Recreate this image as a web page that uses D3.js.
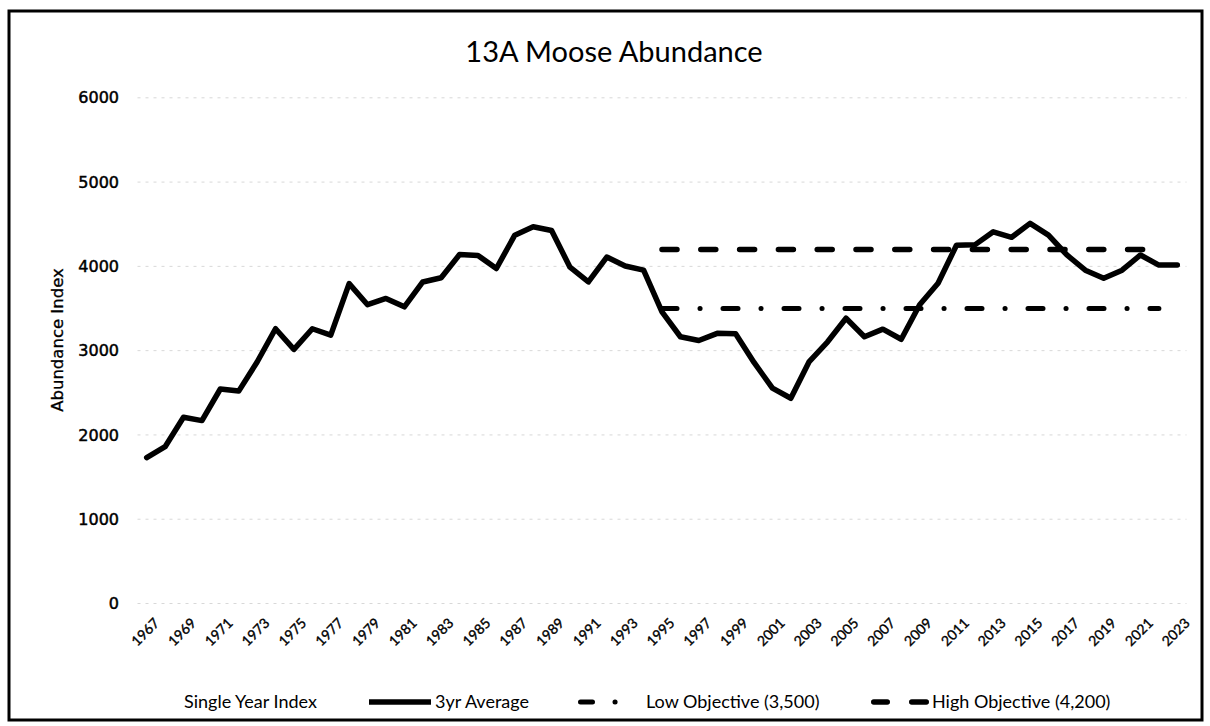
<!doctype html>
<html lang="en">
<head>
    <meta charset="UTF-8">
    <title>13A Moose Abundance</title>
    <script src="https://cdn.jsdelivr.net/npm/d3@7"></script>
    <style>
        body { margin: 0; background: #fff; }
        text { fill: #000; }
    </style>
</head>
<body>
    <script>
        // 3yr average abundance index
        var years = [1967, 1968, 1969, 1970, 1971, 1972, 1973, 1974, 1975, 1976,
                     1977, 1978, 1979, 1980, 1981, 1982, 1983, 1984, 1985, 1986,
                     1987, 1988, 1989, 1990, 1991, 1992, 1993, 1994, 1995, 1996,
                     1997, 1998, 1999, 2000, 2001, 2002, 2003, 2004, 2005, 2006,
                     2007, 2008, 2009, 2010, 2011, 2012, 2013, 2014, 2015, 2016,
                     2017, 2018, 2019, 2020, 2021, 2022, 2023];
        var avg3yr = [1730, 1860, 2210, 2170, 2545, 2520, 2865, 3260, 3015, 3260,
                      3185, 3795, 3545, 3620, 3520, 3815, 3865, 4140, 4130, 3975,
                      4370, 4470, 4425, 3990, 3815, 4110, 4005, 3955, 3460, 3165,
                      3120, 3205, 3200, 2860, 2555, 2435, 2870, 3105, 3385, 3165,
                      3255, 3135, 3545, 3800, 4250, 4255, 4410, 4345, 4510, 4370,
                      4135, 3955, 3860, 3955, 4135, 4015, 4015];
        var lowObjective = 3500,
            highObjective = 4200,
            objectiveYears = [1995, 2022];
        var yTicks = [0, 1000, 2000, 3000, 4000, 5000, 6000];
        var xTickYears = [1967, 1969, 1971, 1973, 1975, 1977, 1979, 1981, 1983, 1985,
                          1987, 1989, 1991, 1993, 1995, 1997, 1999, 2001, 2003, 2005,
                          2007, 2009, 2011, 2013, 2015, 2017, 2019, 2021, 2023];

        var width = 1210,
            height = 726;

        var svg = d3.select("body").append("svg")
                    .attr("width", width)
                    .attr("height", height);

        // outer frame
        svg.append("rect")
            .attr("x", 9).attr("y", 11)
            .attr("width", 1193).attr("height", 709)
            .attr("fill", "none")
            .attr("stroke", "#000")
            .attr("stroke-width", 3);

        var x = d3.scalePoint()
                  .domain(years)
                  .range([137.5, 1186.5])
                  .padding(0.5);

        var y = d3.scaleLinear()
                  .domain([0, 6000])
                  .range([603.5, 97.8]);

        // gridlines (faint, scanned look)
        svg.append("g")
            .selectAll("line")
            .data(yTicks)
            .enter()
            .append("line")
            .attr("x1", 137.5)
            .attr("x2", 1186.5)
            .attr("y1", function(d){ return y(d); })
            .attr("y2", function(d){ return y(d); })
            .attr("stroke", "#d8d8d8")
            .attr("stroke-width", 1)
            .attr("stroke-dasharray", "3,5");

        // y axis labels
        var yAxis = d3.axisLeft(y).tickValues(yTicks).tickSize(0).tickPadding(0).tickFormat(d3.format("d"));
        svg.append("g")
            .attr("transform", "translate(119,0)")
            .call(yAxis)
            .call(function(g){ g.select(".domain").remove(); })
            .selectAll("text")
            .attr("font-family", "DejaVu Sans")
            .attr("font-size", 16)
            .attr("fill", "#000")
            .attr("stroke", "#000")
            .attr("stroke-width", 0.5);

        svg.append("text")
            .attr("transform", "translate(57,340) rotate(-90)")
            .attr("text-anchor", "middle")
            .attr("dy", "0.35em")
            .attr("font-family", "DejaVu Sans")
            .attr("font-size", 16.5)
            .attr("stroke", "#000")
            .attr("stroke-width", 0.3)
            .text("Abundance Index");

        // x axis labels, every other year, rotated
        var xAxis = d3.axisBottom(x).tickValues(xTickYears).tickSize(0).tickPadding(0);
        svg.append("g")
            .attr("transform", "translate(0,617)")
            .call(xAxis)
            .call(function(g){ g.select(".domain").remove(); })
            .selectAll("text")
            .attr("font-family", "Lato")
            .attr("font-size", 14)
            .attr("fill", "#000")
            .attr("stroke", "#000")
            .attr("stroke-width", 0.35)
            .attr("text-anchor", "end")
            .attr("dy", "0.7em")
            .attr("transform", "translate(6,0) rotate(-45)");

        // title
        svg.append("text")
            .attr("x", 614)
            .attr("y", 62)
            .attr("text-anchor", "middle")
            .attr("font-family", "Lato")
            .attr("font-size", 29)
            .text("13A Moose Abundance");

        // objective lines
        var objData = years.filter(function(d){ return d >= objectiveYears[0] && d <= objectiveYears[1]; });
        var objLine = function(level){
            return d3.line()
                     .x(function(d){ return x(d); })
                     .y(function(){ return y(level); });
        };

        svg.append("path")
            .datum(objData)
            .attr("d", objLine(highObjective))
            .attr("fill", "none")
            .attr("stroke", "#000")
            .attr("stroke-width", 5.5)
            .attr("stroke-linecap", "round")
            .attr("stroke-dasharray", "15,23.8");

        svg.append("path")
            .datum(objData)
            .attr("d", objLine(lowObjective))
            .attr("fill", "none")
            .attr("stroke", "#000")
            .attr("stroke-width", 5)
            .attr("stroke-linecap", "round")
            .attr("stroke-dasharray", "15,23,0.1,22.9");

        // 3yr average line
        var avgLine = d3.line()
                        .x(function(d, i){ return x(years[i]); })
                        .y(function(d){ return y(d); });

        svg.append("path")
            .datum(avg3yr)
            .attr("d", avgLine)
            .attr("fill", "none")
            .attr("stroke", "#000")
            .attr("stroke-width", 5.5)
            .attr("stroke-linejoin", "round")
            .attr("stroke-linecap", "round");

        // legend
        var legendY = 702;
        var legend = svg.append("g").attr("font-family", "Lato").attr("font-size", 18);

        legend.append("text").attr("x", 184).attr("y", legendY).attr("dy", "0.35em").text("Single Year Index");

        legend.append("line")
            .attr("x1", 369).attr("x2", 431).attr("y1", legendY).attr("y2", legendY)
            .attr("stroke", "#000").attr("stroke-width", 5.5);
        legend.append("text").attr("x", 435).attr("y", legendY).attr("dy", "0.35em").text("3yr Average");

        legend.append("line")
            .attr("x1", 580.5).attr("x2", 640).attr("y1", legendY).attr("y2", legendY)
            .attr("stroke", "#000").attr("stroke-width", 5).attr("stroke-linecap", "round")
            .attr("stroke-dasharray", "12,22.5,0.1,60");
        legend.append("text").attr("x", 646).attr("y", legendY).attr("dy", "0.35em").text("Low Objective (3,500)");

        legend.append("line")
            .attr("x1", 873.75).attr("x2", 926.25).attr("y1", legendY).attr("y2", legendY)
            .attr("stroke", "#000").attr("stroke-width", 5.5).attr("stroke-linecap", "round")
            .attr("stroke-dasharray", "13.5,24.5,14.5,40");
        legend.append("text").attr("x", 932).attr("y", legendY).attr("dy", "0.35em").text("High Objective (4,200)");
    </script>
</body>
</html>
